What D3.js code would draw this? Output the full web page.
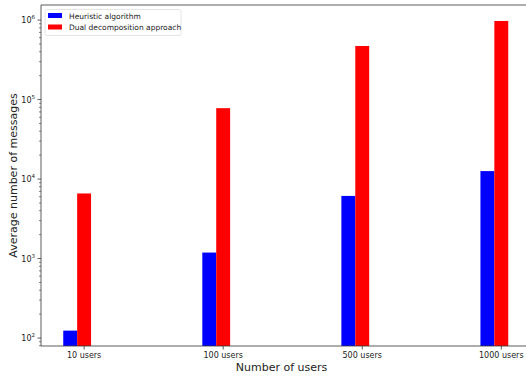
<!DOCTYPE html>
<html><head><meta charset="utf-8">
<script src="https://cdn.jsdelivr.net/npm/d3@7"></script>
<style>body{margin:0;background:#fff}svg{display:block}text{font-family:"DejaVu Sans",sans-serif}</style>
</head><body><svg id="c" width="526" height="378"></svg>
<script>
const categories = ["10 users","100 users","500 users","1000 users"];
const heuristic = [124, 1190, 6140, 12600];
const dual = [6590, 78000, 472000, 975000];
const seriesNames = ["Heuristic algorithm","Dual decomposition approach"];
const seriesColors = ["#0000ff","#ff0000"];
const yTickExps = [2,3,4,5,6];

const svg = d3.select("#c");
const L = 41, R = 530.5, T = 5, B = 346;
// x in data units (category index)
const x = d3.scaleLinear().domain([-0.31, 3.21]).range([L, R]);
const y = d3.scaleLog().domain([Math.pow(10,1.9), Math.pow(10,6.19)]).range([B, T]);
const bw = 0.1;

const series = [heuristic, dual];
const offsets = [-0.1, 0];
series.forEach((vals, si) => {
  svg.append("g").selectAll("rect").data(vals).join("rect")
    .attr("x", (d,i) => x(i + offsets[si] - bw/2))
    .attr("width", x(bw) - x(0))
    .attr("y", d => y(d))
    .attr("height", d => B - y(d))
    .attr("fill", seriesColors[si]);
});

// spines
svg.append("line").attr("x1",L).attr("x2",L).attr("y1",T).attr("y2",B).attr("stroke","#333").attr("stroke-width",0.8);
svg.append("line").attr("x1",L).attr("x2",526).attr("y1",B).attr("y2",B).attr("stroke","#333").attr("stroke-width",0.8);
svg.append("line").attr("x1",L).attr("x2",526).attr("y1",T).attr("y2",T).attr("stroke","#333").attr("stroke-width",0.8);

// x ticks
const xt = svg.append("g");
categories.forEach((c,i) => {
  xt.append("line").attr("x1",x(i)).attr("x2",x(i)).attr("y1",B).attr("y2",B+3.5).attr("stroke","#333").attr("stroke-width",0.8);
  xt.append("text").attr("x",x(i)).attr("y",B+12).attr("text-anchor","middle").attr("font-size",8).attr("fill","#222").text(c);
});

// y ticks
const yt = svg.append("g");
yTickExps.forEach(e => {
  const v = Math.pow(10,e);
  yt.append("line").attr("x1",L-3.5).attr("x2",L).attr("y1",y(v)).attr("y2",y(v)).attr("stroke","#333").attr("stroke-width",0.8);
  const t = yt.append("text").attr("x",L-6).attr("y",y(v)+3).attr("text-anchor","end").attr("font-size",8).attr("fill","#222");
  t.append("tspan").text("10");
  t.append("tspan").attr("font-size",5.5).attr("dy",-4).text(e);
});
for (let e = 1; e <= 6; e++) {
  for (let m = 2; m <= 9; m++) {
    const v = m*Math.pow(10,e);
    if (v < y.domain()[0] || v > y.domain()[1]) continue;
    yt.append("line").attr("x1",L-2).attr("x2",L).attr("y1",y(v)).attr("y2",y(v)).attr("stroke","#333").attr("stroke-width",0.6);
  }
}

// axis labels
svg.append("text").attr("x",(L+526)/2 - 2).attr("y",371).attr("text-anchor","middle").attr("font-size",11).attr("fill","#222").text("Number of users");
svg.append("text").attr("transform","translate(17,"+((T+B)/2)+") rotate(-90)").attr("text-anchor","middle").attr("font-size",11).attr("fill","#222").text("Average number of messages");

// legend
const lg = svg.append("g");
lg.append("rect").attr("x",45).attr("y",9.5).attr("width",136).attr("height",26).attr("rx",2).attr("fill","#fff").attr("stroke","#ddd").attr("stroke-width",0.8);
seriesNames.forEach((n,i) => {
  lg.append("rect").attr("x",48).attr("y",13+i*11.5).attr("width",14).attr("height",5).attr("fill",seriesColors[i]);
  lg.append("text").attr("x",69).attr("y",18.5+i*11.5).attr("font-size",7.5).attr("fill","#222").text(n);
});
</script></body></html>
